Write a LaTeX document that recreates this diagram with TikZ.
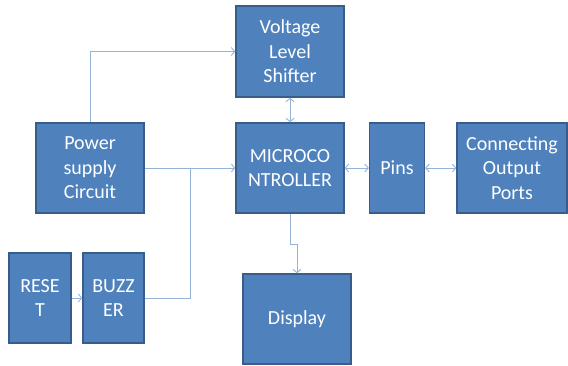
\documentclass[tikz,border=0pt]{standalone}
\usepackage{fontspec}
\setmainfont{Carlito}
\usetikzlibrary{arrows.meta}
\definecolor{boxfill}{RGB}{79,129,189}
\definecolor{boxline}{RGB}{56,93,138}
\definecolor{wire}{RGB}{149,179,215}
\begin{document}
\begin{tikzpicture}[x=1pt,y=-1pt,
  blk/.style={draw=boxline,line width=1.3pt,fill=boxfill,text=white,align=center,inner sep=0pt,
    font=\fontsize{20}{24.5}\selectfont},
  wireline/.style={draw=wire,line width=0.9pt},
  arr/.style={wireline,-{Straight Barb[length=3.5pt,width=8pt]}},
  darr/.style={wireline,{Straight Barb[length=3.5pt,width=8pt]}-{Straight Barb[length=3.5pt,width=8pt]}}]
\useasboundingbox (0,0) rectangle (568,366);
\node[blk,minimum width=108pt,minimum height=91pt] (vls) at (290,51.5) {Voltage\\Level\\Shifter};
\node[blk,minimum width=108pt,minimum height=90pt] (power) at (90,168) {Power\\supply\\Circuit};
\node[blk,minimum width=108pt,minimum height=90pt] (micro) at (290,168) {MICROCO\\NTROLLER};
\node[blk,minimum width=55pt,minimum height=90pt] (pins) at (397,168) {Pins};
\node[blk,minimum width=110pt,minimum height=90pt] (cop) at (512,168) {Connecting\\Output\\Ports};
\node[blk,minimum width=62pt,minimum height=90pt] (reset) at (40,298) {RESE\\T};
\node[blk,minimum width=61pt,minimum height=90pt] (buzz) at (113.5,298) {BUZZ\\ER};
\node[blk,minimum width=108pt,minimum height=90pt] (disp) at (297,319) {Display};
\coordinate (j) at (190,168);
\coordinate (k) at (290,244);
\draw[arr] (power.north) |- (vls.west);
\draw[arr] (power.east) -- (micro.west);
\draw[wireline] (buzz.east) -| (j);
\draw[arr] (reset) -- (buzz);
\draw[darr] (vls) -- (micro);
\draw[darr] (micro) -- (pins);
\draw[darr] (pins) -- (cop);
\draw[arr] (micro.south) -- (k) -| (disp.north);
\end{tikzpicture}
\end{document}
